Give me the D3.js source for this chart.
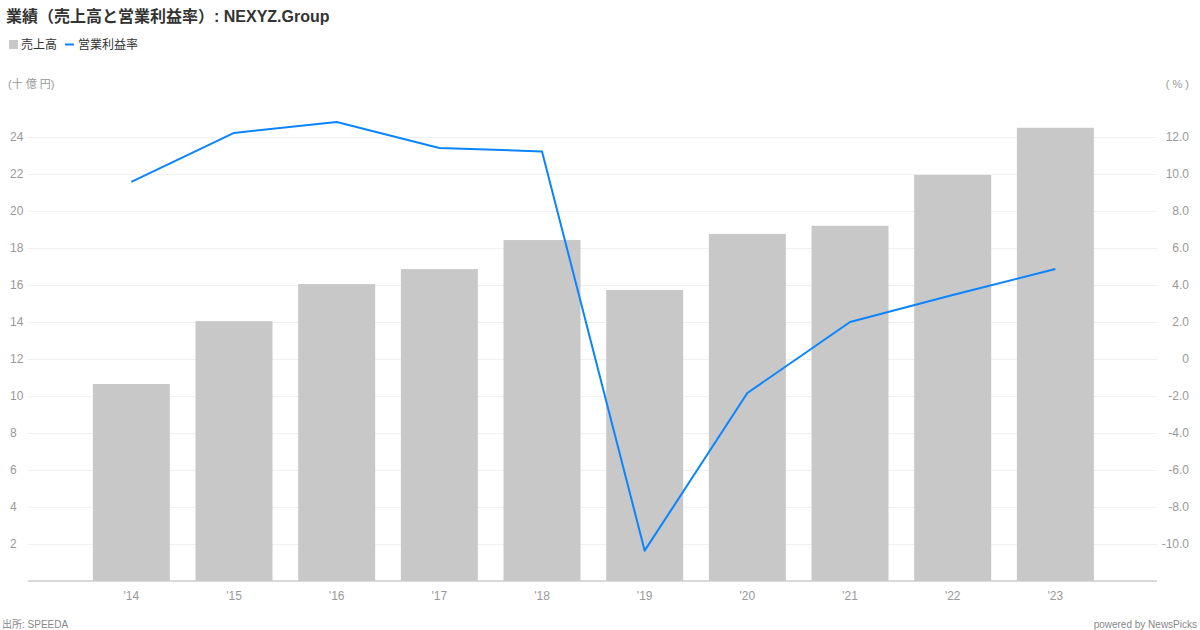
<!DOCTYPE html>
<html><head><meta charset="utf-8">
<script src="https://cdn.jsdelivr.net/npm/d3@7"></script>
<style>
body{margin:0;background:#fff;}
svg{display:block;font-family:"Liberation Sans","Noto Sans CJK JP",sans-serif;}
</style></head><body>
<svg id="c" width="1200" height="630"></svg>
<script>
const categories = ["'14","'15","'16","'17","'18","'19","'20","'21","'22","'23"];
const sales = [10.65, 14.05, 16.05, 16.86, 18.43, 15.73, 18.76, 19.2, 21.95, 24.5];
const margin = [9.57, 12.22, 12.81, 11.41, 11.22, -10.36, -1.84, 2.0, 3.46, 4.86];
const leftTicks = [2,4,6,8,10,12,14,16,18,20,22,24];
const rightTicks = [-10,-8,-6,-4,-2,0,2,4,6,8,10,12];

const svg = d3.select("#c");
const x = d3.scaleBand().domain(categories).range([80, 1106.7]).paddingInner(0.25).paddingOuter(0.125);
const yL = d3.scaleLinear().domain([0, 24]).range([581, 137]);
const yR = d3.scaleLinear().domain([-12, 12]).range([581, 137]);
const font = '"Liberation Sans","Noto Sans CJK JP",sans-serif';

// grid
svg.append("g").selectAll("line").data(leftTicks).join("line")
  .attr("x1", 28).attr("x2", 1157)
  .attr("y1", d => Math.round(yL(d)) + 0.5).attr("y2", d => Math.round(yL(d)) + 0.5)
  .attr("stroke", "#f0f0f0").attr("stroke-width", 1);

// bars
svg.append("g").selectAll("rect").data(sales).join("rect")
  .attr("x", (d, i) => x(categories[i]))
  .attr("width", x.bandwidth())
  .attr("y", d => yL(d))
  .attr("height", d => yL(0) - yL(d))
  .attr("fill", "#c8c8c8");

// baseline
svg.append("line").attr("x1", 28).attr("x2", 1157).attr("y1", 581).attr("y2", 581)
  .attr("stroke", "#cccccc").attr("stroke-width", 1.5);

// line
const line = d3.line().x((d, i) => x(categories[i]) + x.bandwidth() / 2).y(d => yR(d));
svg.append("path").datum(margin).attr("d", line)
  .attr("fill", "none").attr("stroke", "#0a84ff").attr("stroke-width", 2).attr("stroke-linejoin", "round");

// left axis labels
const axL = d3.axisLeft(yL).tickValues(leftTicks).tickSize(0).tickPadding(0).tickFormat(d => String(d));
const gL = svg.append("g").attr("transform", "translate(10,0)").call(axL);
gL.select(".domain").remove();
gL.selectAll("text").attr("text-anchor", "start").attr("fill", "#999").attr("font-size", 12).attr("font-family", font);

// right axis labels
const axR = d3.axisRight(yR).tickValues(rightTicks).tickSize(0).tickPadding(0).tickFormat(d => d === 0 ? "0" : d.toFixed(1));
const gR = svg.append("g").attr("transform", "translate(1189,0)").call(axR);
gR.select(".domain").remove();
gR.selectAll("text").attr("text-anchor", "end").attr("fill", "#999").attr("font-size", 12).attr("font-family", font);

// bottom axis
const axB = d3.axisBottom(x).tickSize(0).tickPadding(0);
const gB = svg.append("g").attr("transform", "translate(0,591)").call(axB);
gB.select(".domain").remove();
gB.selectAll("text").attr("fill", "#999").attr("font-size", 12).attr("font-family", font).attr("dy", "0.71em");

// title
svg.append("text").attr("x", 6).attr("y", 22).attr("font-size", 16).attr("font-weight", "bold")
  .attr("fill", "#333333").text("業績（売上高と営業利益率）: NEXYZ.Group");

// legend
svg.append("rect").attr("x", 9).attr("y", 40).attr("width", 9).attr("height", 9).attr("fill", "#c8c8c8");
svg.append("text").attr("x", 21).attr("y", 49).attr("font-size", 12).attr("fill", "#333").text("売上高");
svg.append("line").attr("x1", 65).attr("x2", 74).attr("y1", 44.5).attr("y2", 44.5).attr("stroke", "#0a84ff").attr("stroke-width", 2);
svg.append("text").attr("x", 78).attr("y", 49).attr("font-size", 12).attr("fill", "#333").text("営業利益率");

// units
svg.append("text").attr("x", 8).attr("y", 88).attr("font-size", 11).attr("fill", "#999").text("(十 億 円)");
svg.append("text").attr("x", 1189).attr("y", 88).attr("text-anchor", "end").attr("font-size", 11).attr("fill", "#999").text("( % )");

// footer
svg.append("text").attr("x", 2).attr("y", 628).attr("font-size", 10).attr("fill", "#888").text("出所: SPEEDA");
svg.append("text").attr("x", 1197).attr("y", 628).attr("text-anchor", "end").attr("font-size", 10).attr("fill", "#888").text("powered by NewsPicks");
</script>
</body></html>
